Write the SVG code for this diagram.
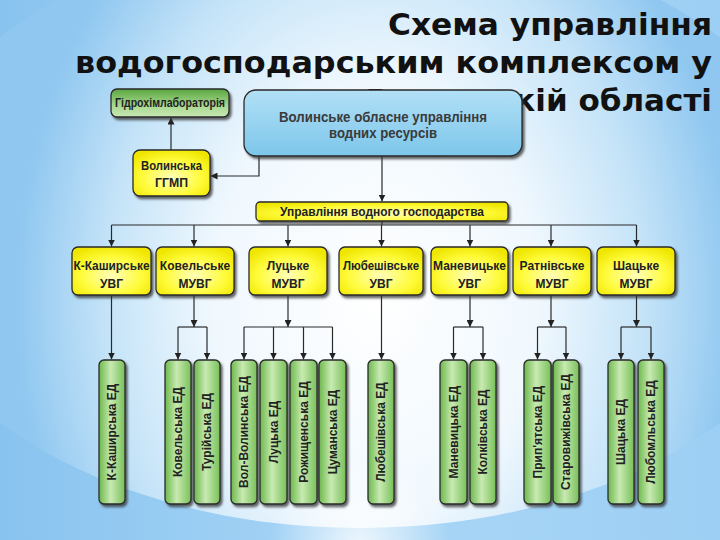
<svg xmlns="http://www.w3.org/2000/svg" width="720" height="540" viewBox="0 0 720 540">
<defs>
  <linearGradient id="bgBase" x1="0" y1="0" x2="1" y2="0">
    <stop offset="0" stop-color="#88c3ef"/>
    <stop offset="0.5" stop-color="#a9d6f6"/>
    <stop offset="1" stop-color="#9dcff4"/>
  </linearGradient>
  <radialGradient id="bgGlow" cx="0" cy="0" r="1" gradientUnits="userSpaceOnUse" gradientTransform="translate(375,300) scale(360,480)">
    <stop offset="0" stop-color="#ffffff"/>
    <stop offset="0.45" stop-color="#f0f8fe"/>
    <stop offset="0.75" stop-color="#c4e3f8"/>
    <stop offset="1" stop-color="#8fc7f0"/>
  </radialGradient>
  <radialGradient id="bgSpot" cx="360" cy="545" r="90" gradientUnits="userSpaceOnUse">
    <stop offset="0" stop-color="#ffffff" stop-opacity="0.8"/>
    <stop offset="1" stop-color="#ffffff" stop-opacity="0"/>
  </radialGradient>
  <linearGradient id="blueFill" x1="0" y1="0" x2="0" y2="1">
    <stop offset="0" stop-color="#b2e0f6"/>
    <stop offset="1" stop-color="#7cc6ea"/>
  </linearGradient>
  <radialGradient id="yellowFill" cx="0.5" cy="0.6" r="0.65">
    <stop offset="0" stop-color="#ffffb8"/>
    <stop offset="0.6" stop-color="#fffb3a"/>
    <stop offset="1" stop-color="#efe600"/>
  </radialGradient>
  <linearGradient id="greenV" x1="0" y1="0" x2="1" y2="0">
    <stop offset="0" stop-color="#6cb84c"/>
    <stop offset="0.45" stop-color="#c8eab2"/>
    <stop offset="1" stop-color="#78c058"/>
  </linearGradient>
  <linearGradient id="greenH" x1="0" y1="0" x2="0" y2="1">
    <stop offset="0" stop-color="#5aa640"/>
    <stop offset="0.6" stop-color="#a8d890"/>
    <stop offset="1" stop-color="#c8e8b4"/>
  </linearGradient>
  <filter id="sh" x="-10%" y="-10%" width="130%" height="130%">
    <feDropShadow dx="2" dy="2.5" stdDeviation="1" flood-color="#333" flood-opacity="0.75"/>
  </filter>
  <marker id="ah" viewBox="0 0 8 8" refX="8" refY="4" markerWidth="7" markerHeight="7" markerUnits="userSpaceOnUse" orient="auto">
    <path d="M0,0 L8,4 L0,8 z" fill="#222"/>
  </marker>
  <style>
    .title{font-family:"DejaVu Sans",sans-serif;font-weight:bold;font-size:31px;fill:#111;text-anchor:end}
    .box{stroke:#2a2a2a;stroke-width:1.3;filter:url(#sh)}
    .y{fill:url(#yellowFill)}
    .g{fill:url(#greenV)}
    .t{font-family:"Liberation Sans",Arial,sans-serif;font-weight:bold;font-size:12px;fill:#222;text-anchor:middle}
    .bt{font-family:"Liberation Sans",Arial,sans-serif;font-weight:bold;font-size:14px;fill:#3a3a3a;text-anchor:middle}
    .vt{font-family:"Liberation Sans",Arial,sans-serif;font-weight:bold;font-size:12px;fill:#222;text-anchor:middle}
    .c{fill:none;stroke:#2a2a2a;stroke-width:1.2}
    .ca{fill:none;stroke:#2a2a2a;stroke-width:1.2;marker-end:url(#ah)}
  </style>
</defs>

<rect width="720" height="540" fill="url(#bgBase)"/>
<ellipse cx="360" cy="230" rx="472" ry="298" fill="url(#bgGlow)"/>
<rect x="200" y="460" width="320" height="80" fill="url(#bgSpot)"/>

<g id="title">
  <text class="title" x="712" y="35" textLength="324" lengthAdjust="spacingAndGlyphs">Схема управління</text>
  <text class="title" x="712" y="73" textLength="637" lengthAdjust="spacingAndGlyphs">водогосподарським комплексом у</text>
  <text class="title" x="712" y="111">Волинській області</text>
</g>

<g id="connectors">
  <path class="ca" d="M171,150 V117.5"/>
  <path class="ca" d="M259,156 V176 H210.5"/>
  <path class="ca" d="M382,156 V201.5"/>
  <path class="c" d="M382,221 V225 M111.5,225 H636.5"/>
  <path class="ca" d="M111.5,225 V246.5"/>
  <path class="ca" d="M194,225 V246.5"/>
  <path class="ca" d="M288,225 V246.5"/>
  <path class="ca" d="M381.5,225 V246.5"/>
  <path class="ca" d="M470,225 V246.5"/>
  <path class="ca" d="M551,225 V246.5"/>
  <path class="ca" d="M636.5,225 V246.5"/>

  <path class="ca" d="M111.5,295 V359.5"/>
  <path class="ca" d="M381.5,295 V359.5"/>

  <path class="ca" d="M194,295 V327"/>
  <path class="c" d="M178,327 H207"/>
  <path class="ca" d="M178,327 V359.5"/>
  <path class="ca" d="M207,327 V359.5"/>

  <path class="ca" d="M288,295 V327"/>
  <path class="c" d="M244,327 H332.5"/>
  <path class="ca" d="M244,327 V359.5"/>
  <path class="ca" d="M273.5,327 V359.5"/>
  <path class="ca" d="M303.5,327 V359.5"/>
  <path class="ca" d="M332.5,327 V359.5"/>

  <path class="ca" d="M470,295 V327"/>
  <path class="c" d="M453.5,327 H483"/>
  <path class="ca" d="M453.5,327 V359.5"/>
  <path class="ca" d="M483,327 V359.5"/>

  <path class="ca" d="M551,295 V327"/>
  <path class="c" d="M537.5,327 H566"/>
  <path class="ca" d="M537.5,327 V359.5"/>
  <path class="ca" d="M566,327 V359.5"/>

  <path class="ca" d="M636.5,295 V327"/>
  <path class="c" d="M621,327 H651"/>
  <path class="ca" d="M621,327 V359.5"/>
  <path class="ca" d="M651,327 V359.5"/>
</g>

<g id="n-gidro">
  <rect class="box" x="111" y="89" width="118" height="28" rx="6" fill="url(#greenH)"/>
  <text class="t" x="170" y="107" font-size="11" textLength="110" lengthAdjust="spacingAndGlyphs">Гідрохімлабораторія</text>
</g>
<g id="n-oblast">
  <rect class="box" x="244" y="90" width="278" height="66" rx="12" fill="url(#blueFill)"/>
  <text class="bt" x="383" y="122" textLength="208" lengthAdjust="spacingAndGlyphs">Волинське обласне управління</text>
  <text class="bt" x="383" y="138" textLength="108" lengthAdjust="spacingAndGlyphs">водних ресурсів</text>
</g>
<g id="n-ggmp">
  <rect class="box y" x="133" y="150" width="77" height="46" rx="7"/>
  <text class="t" x="171.5" y="170" font-size="13" textLength="61" lengthAdjust="spacingAndGlyphs">Волинська</text>
  <text class="t" x="171.5" y="187" font-size="13" textLength="33" lengthAdjust="spacingAndGlyphs">ГГМП</text>
</g>
<g id="n-uvg">
  <rect class="box y" x="256" y="202" width="252" height="19" rx="4"/>
  <text class="t" x="382" y="216" textLength="204" lengthAdjust="spacingAndGlyphs">Управління водного господарства</text>
</g>

<g id="n-kkash">
  <rect class="box y" x="72" y="247" width="79" height="48" rx="6"/>
  <text class="t" x="111.5" y="269.5" textLength="76" lengthAdjust="spacingAndGlyphs">К-Каширське</text>
  <text class="t" x="111.5" y="287.5">УВГ</text>
</g>
<g id="n-kovel">
  <rect class="box y" x="156" y="247" width="78" height="48" rx="6"/>
  <text class="t" x="195" y="269.5">Ковельське</text>
  <text class="t" x="195" y="287.5">МУВГ</text>
</g>
<g id="n-lutsk">
  <rect class="box y" x="249" y="247" width="78" height="48" rx="6"/>
  <text class="t" x="288" y="269.5">Луцьке</text>
  <text class="t" x="288" y="287.5">МУВГ</text>
</g>
<g id="n-lyub">
  <rect class="box y" x="339" y="247" width="84" height="48" rx="6"/>
  <text class="t" x="381" y="269.5" textLength="76" lengthAdjust="spacingAndGlyphs">Любешівське</text>
  <text class="t" x="381" y="287.5">УВГ</text>
</g>
<g id="n-manev">
  <rect class="box y" x="431" y="247" width="77" height="48" rx="6"/>
  <text class="t" x="469.5" y="269.5">Маневицьке</text>
  <text class="t" x="469.5" y="287.5">УВГ</text>
</g>
<g id="n-ratn">
  <rect class="box y" x="513" y="247" width="78" height="48" rx="6"/>
  <text class="t" x="552" y="269.5">Ратнівське</text>
  <text class="t" x="552" y="287.5">МУВГ</text>
</g>
<g id="n-shats">
  <rect class="box y" x="597" y="247" width="78" height="48" rx="6"/>
  <text class="t" x="636" y="269.5">Шацьке</text>
  <text class="t" x="636" y="287.5">МУВГ</text>
</g>

<g id="e-kkash">
  <rect class="box g" x="99" y="360" width="26" height="144" rx="5"/>
  <text class="vt" transform="translate(116.3,432) rotate(-90)">К-Каширська ЕД</text>
</g>
<g id="e-kovel">
  <rect class="box g" x="165" y="360" width="26" height="144" rx="5"/>
  <text class="vt" transform="translate(182.3,432) rotate(-90)">Ковельська ЕД</text>
</g>
<g id="e-tur">
  <rect class="box g" x="194" y="360" width="26" height="144" rx="5"/>
  <text class="vt" transform="translate(211.3,432) rotate(-90)">Турійська ЕД</text>
</g>
<g id="e-vol">
  <rect class="box g" x="231" y="360" width="26" height="144" rx="5"/>
  <text class="vt" transform="translate(248.3,432) rotate(-90)">Вол-Волинська ЕД</text>
</g>
<g id="e-lutsk">
  <rect class="box g" x="260" y="360" width="27" height="144" rx="5"/>
  <text class="vt" transform="translate(277.8,432) rotate(-90)">Луцька ЕД</text>
</g>
<g id="e-rozh">
  <rect class="box g" x="290" y="360" width="27" height="144" rx="5"/>
  <text class="vt" transform="translate(307.8,432) rotate(-90)">Рожищенська ЕД</text>
</g>
<g id="e-tsum">
  <rect class="box g" x="319" y="360" width="27" height="144" rx="5"/>
  <text class="vt" transform="translate(336.8,432) rotate(-90)">Цуманська ЕД</text>
</g>
<g id="e-lyub">
  <rect class="box g" x="368" y="360" width="26" height="144" rx="5"/>
  <text class="vt" transform="translate(385.3,432) rotate(-90)">Любешівська ЕД</text>
</g>
<g id="e-manev">
  <rect class="box g" x="440" y="360" width="27" height="144" rx="5"/>
  <text class="vt" transform="translate(457.8,432) rotate(-90)">Маневицька ЕД</text>
</g>
<g id="e-kolk">
  <rect class="box g" x="470" y="360" width="26" height="144" rx="5"/>
  <text class="vt" transform="translate(487.3,432) rotate(-90)">Колківська ЕД</text>
</g>
<g id="e-prip">
  <rect class="box g" x="524" y="360" width="27" height="144" rx="5"/>
  <text class="vt" transform="translate(541.8,432) rotate(-90)">Прип'ятська ЕД</text>
</g>
<g id="e-star">
  <rect class="box g" x="553" y="360" width="26" height="144" rx="5"/>
  <text class="vt" font-size="10.5" transform="translate(569.8,432) rotate(-90)">Старовижівська ЕД</text>
</g>
<g id="e-shats">
  <rect class="box g" x="608" y="360" width="26" height="144" rx="5"/>
  <text class="vt" transform="translate(625.3,432) rotate(-90)">Шацька ЕД</text>
</g>
<g id="e-lyubom">
  <rect class="box g" x="638" y="360" width="26" height="144" rx="5"/>
  <text class="vt" transform="translate(655.3,432) rotate(-90)">Любомльська ЕД</text>
</g>
</svg>
